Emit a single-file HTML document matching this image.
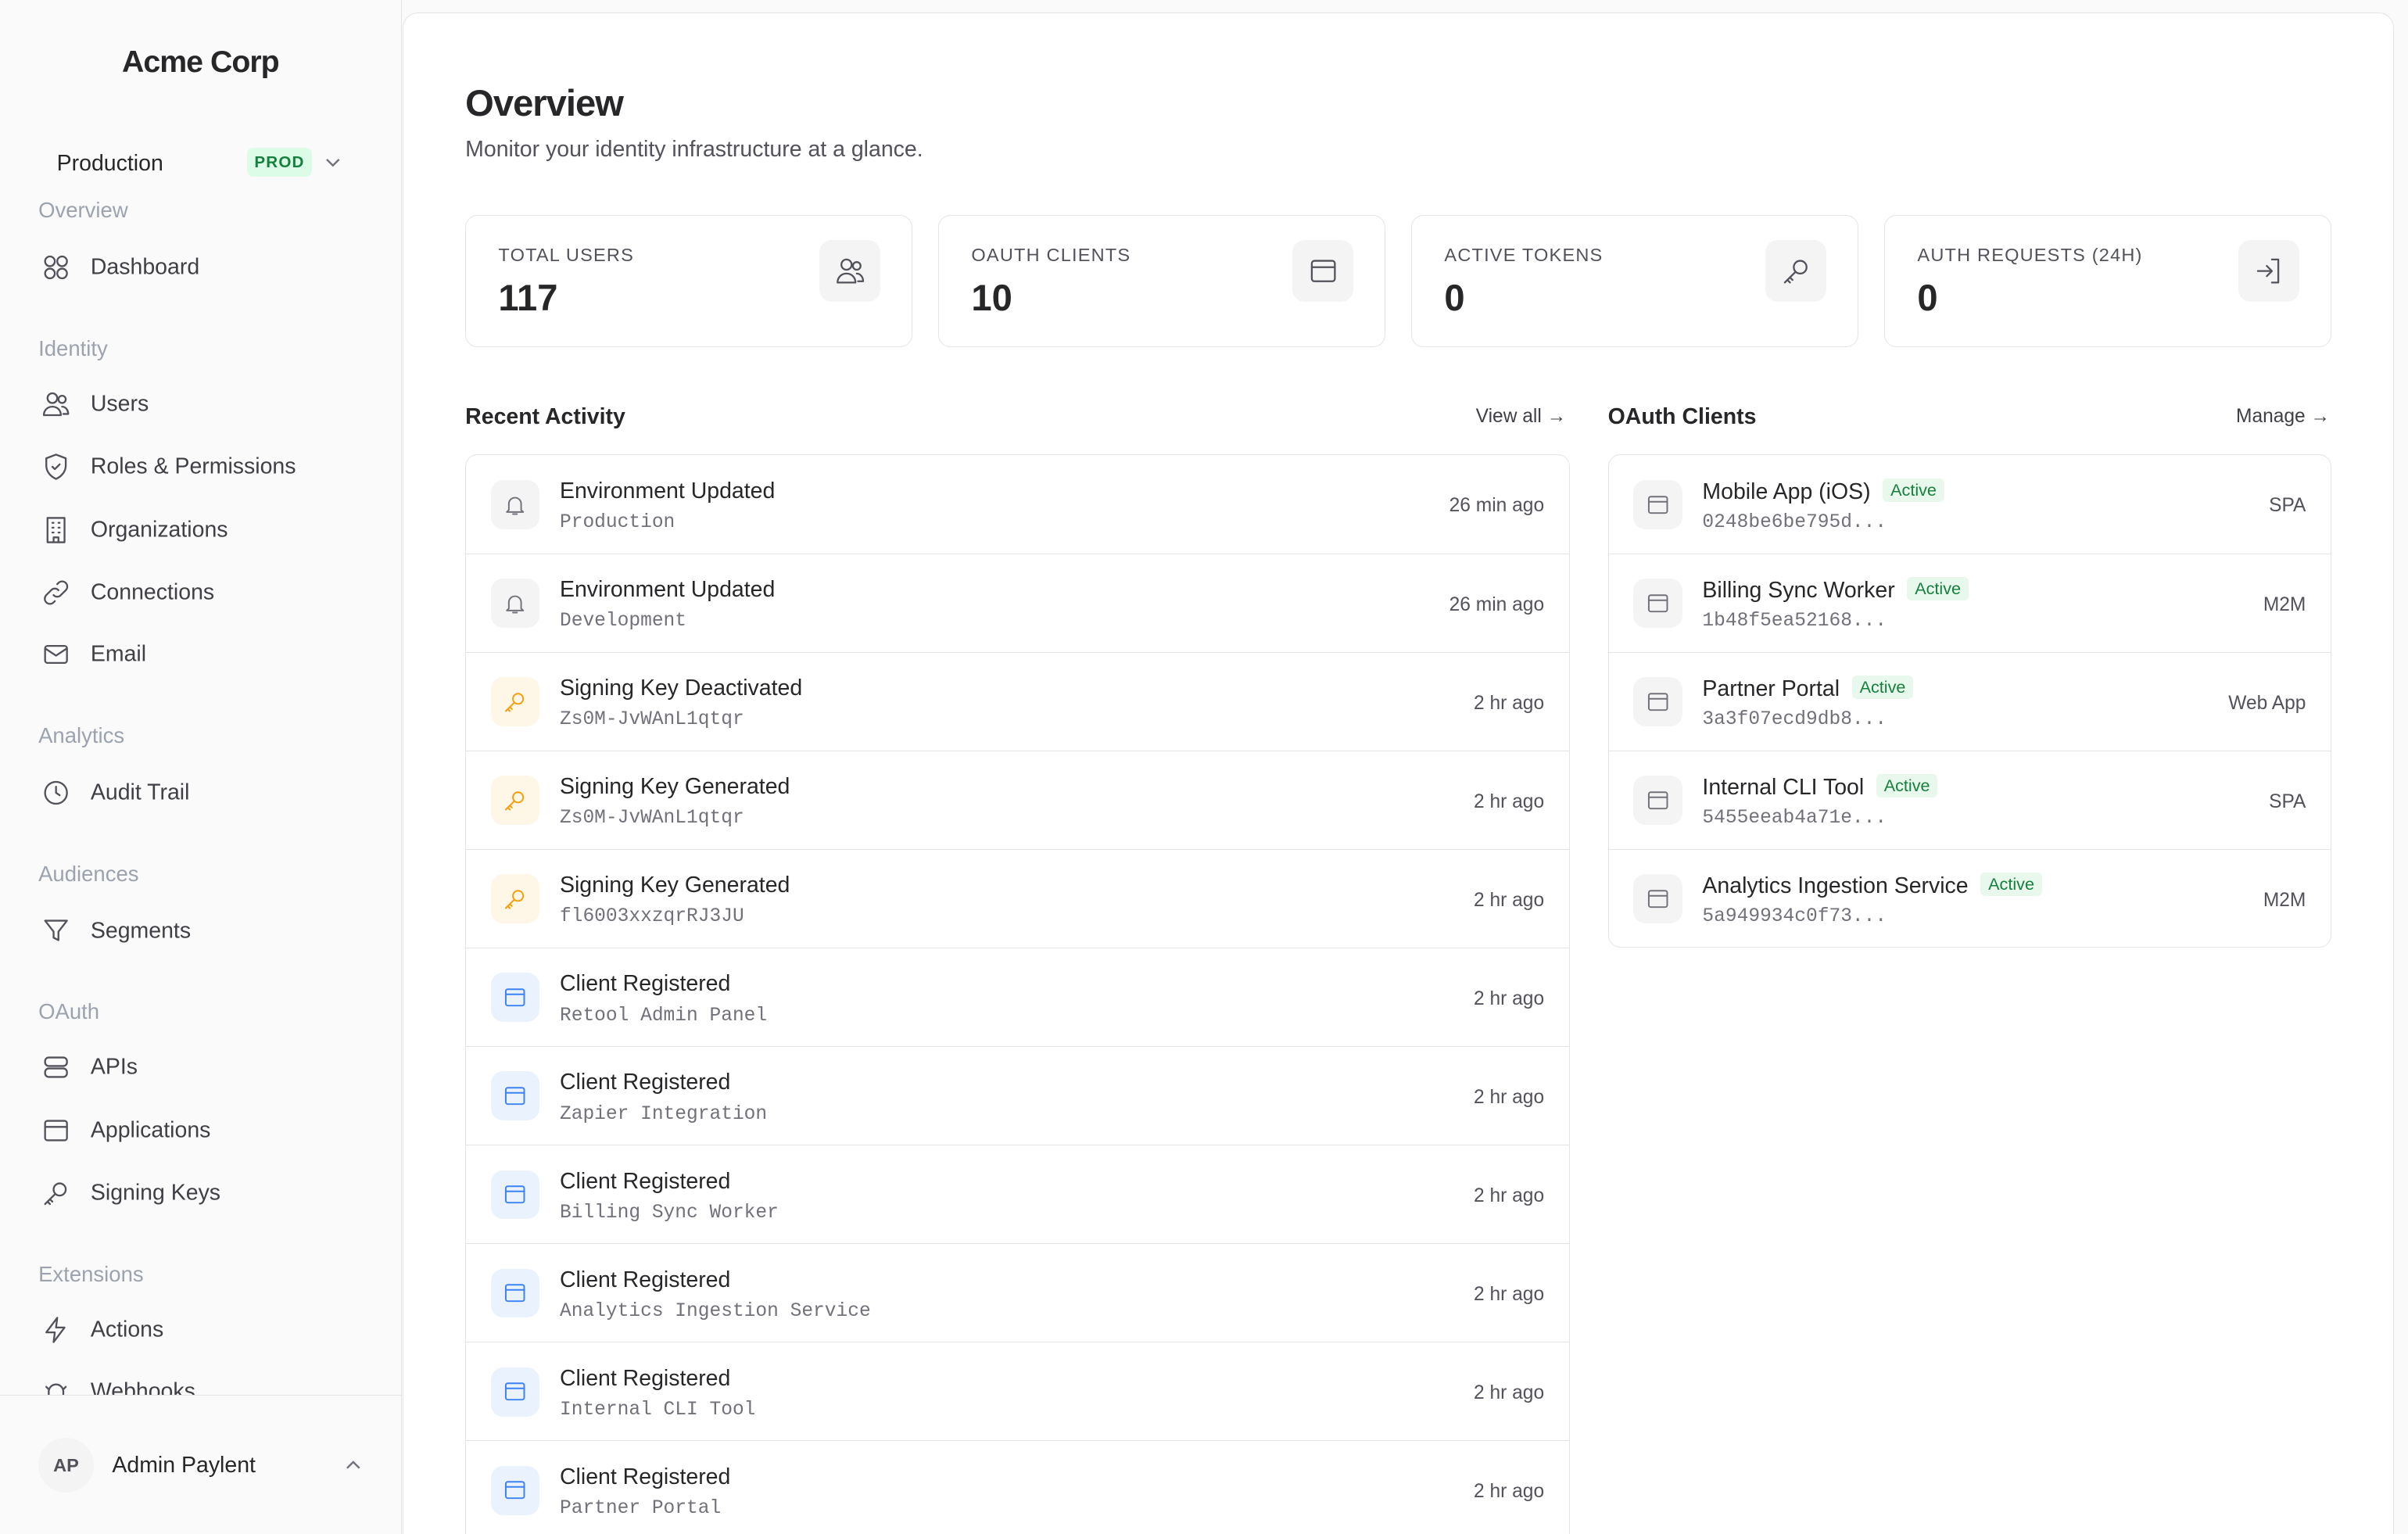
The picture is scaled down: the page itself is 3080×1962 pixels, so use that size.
<!DOCTYPE html>
<html style="height:1962px;width:3080px;overflow:hidden"><head><meta charset="utf-8"><style>
html,body{margin:0;padding:0}
body{width:1568px;height:999px;zoom:1.96429;overflow:hidden;background:#fafafa;font-family:"Liberation Sans",sans-serif;color:#27272a;position:relative}
.a{position:absolute;white-space:nowrap}
.side{position:absolute;left:0;top:0;width:261px;height:999px;background:#fafafa;border-right:1px solid #e4e4e7}
.sec{position:absolute;left:25px;font-size:14px;color:#9ca3af;transform:translateY(-50%)}
.it{position:absolute;left:27px;font-size:14.5px;color:#3f3f46;display:flex;align-items:center;gap:13px;transform:translateY(-50%)}
.it svg{width:19px;height:19px;fill:none;stroke:#52525b;stroke-width:1.5;stroke-linecap:round;stroke-linejoin:round}
.main{position:absolute;left:262px;top:8px;width:1296px;height:1100px;background:#fff;border:1px solid #e4e4e7;border-radius:10px}
.card{position:absolute;top:140px;width:291px;height:86px;border:1px solid #e4e4e7;border-radius:8px;background:#fff;box-sizing:border-box}
.card .l{position:absolute;left:21px;top:19px;font-size:12px;letter-spacing:.6px;color:#52525b}
.card .v{position:absolute;left:21px;top:39px;font-size:24px;font-weight:bold;color:#27272a}
.card .ib{position:absolute;right:20px;top:16px;width:40px;height:40px;border-radius:8px;background:#f4f4f5;display:flex;align-items:center;justify-content:center}
svg.ic{width:20px;height:20px;fill:none;stroke:#52525b;stroke-width:1.4;stroke-linecap:round;stroke-linejoin:round}
.list{position:absolute;top:296px;border:1px solid #e4e4e7;border-radius:8px;background:#fff;overflow:hidden}
.row{height:64.2px;box-sizing:border-box;border-bottom:1px solid #e4e4e7;position:relative}
.row:last-child{border-bottom:none}
.row .ib{position:absolute;left:16px;top:16px;width:32px;height:32px;border-radius:8px;background:#f4f4f5;display:flex;align-items:center;justify-content:center}
.row .ib svg{width:16px;height:16px;fill:none;stroke:#71717a;stroke-width:1.5;stroke-linecap:round;stroke-linejoin:round}
.row .t{position:absolute;left:61px;top:15px;font-size:14.5px;color:#27272a}
.row .s{position:absolute;left:61px;top:37px;font-size:12.5px;color:#71717a;font-family:"Liberation Mono",monospace}
.row .r{position:absolute;right:16px;top:26px;font-size:12.5px;color:#52525b}
.badge{display:inline-block;font-size:11px;color:#15803d;background:#e9f8ec;border-radius:3px;padding:1px 5px;margin-left:8px;vertical-align:2px}
.hdr{position:absolute;top:263px;font-size:14.5px;font-weight:bold;color:#27272a}
.lnk{position:absolute;top:264px;font-size:12.5px;color:#3f3f46}
</style></head><body>
<div class="side">
<div class="a" style="left:0;width:261px;text-align:center;top:29px;font-size:20px;font-weight:bold;letter-spacing:-.5px;color:#27272a">Acme Corp</div>
<div class="a" style="left:37px;top:98px;font-size:14.5px;color:#27272a">Production</div>
<div class="a" style="left:161px;top:96px;width:42px;height:19px;background:#dcfce7;border-radius:4px;font-size:10.5px;font-weight:bold;color:#15803d;text-align:center;line-height:19px;letter-spacing:.6px">PROD</div>
<svg class="a" style="left:212px;top:101px" width="10" height="10" viewBox="0 0 10 10"><path d="M1 3l4 4 4-4" fill="none" stroke="#71717a" stroke-width="1.2"/></svg>
<div class="sec" style="top:137px">Overview</div>
<div class="it" style="top:174px"><svg viewBox="0 0 24 24"><circle cx="7" cy="7" r="4"/><circle cx="17" cy="7" r="4"/><circle cx="7" cy="17" r="4"/><circle cx="17" cy="17" r="4"/></svg>Dashboard</div>
<div class="sec" style="top:227px">Identity</div>
<div class="it" style="top:263px"><svg viewBox="0 0 24 24"><circle cx="9" cy="7" r="4"/><path d="M2 21c0-4 3-7 7-7s7 3 7 7z"/><circle cx="17" cy="8" r="3"/><path d="M17 14c3 0 5 3 5 6h-4"/></svg>Users</div>
<div class="it" style="top:304px"><svg viewBox="0 0 24 24"><path d="M12 2l8 3v6c0 5-3.5 9-8 11-4.5-2-8-6-8-11V5z"/><path d="M9 12l2 2 4-4"/></svg>Roles &amp; Permissions</div>
<div class="it" style="top:345px"><svg viewBox="0 0 24 24"><rect x="5" y="2" width="14" height="20"/><path d="M9 6h1M14 6h1M9 10h1M14 10h1M9 14h1M14 14h1M10 22v-4h4v4"/></svg>Organizations</div>
<div class="it" style="top:386px"><svg viewBox="0 0 24 24"><path d="M10 14a4 4 0 0 0 6 0l4-4a4 4 0 0 0-6-6l-1 1"/><path d="M14 10a4 4 0 0 0-6 0l-4 4a4 4 0 0 0 6 6l1-1"/></svg>Connections</div>
<div class="it" style="top:426px"><svg viewBox="0 0 24 24"><rect x="3" y="5" width="18" height="14" rx="2"/><path d="M3 7l9 6 9-6"/></svg>Email</div>
<div class="sec" style="top:479px">Analytics</div>
<div class="it" style="top:516px"><svg viewBox="0 0 24 24"><circle cx="12" cy="12" r="9"/><path d="M12 7v5l3 2"/></svg>Audit Trail</div>
<div class="sec" style="top:569px">Audiences</div>
<div class="it" style="top:606px"><svg viewBox="0 0 24 24"><path d="M3 4h18l-7 9v7l-4-2v-5z"/></svg>Segments</div>
<div class="sec" style="top:659px">OAuth</div>
<div class="it" style="top:695px"><svg viewBox="0 0 24 24"><rect x="3" y="4" width="18" height="7" rx="3"/><rect x="3" y="13" width="18" height="7" rx="3"/></svg>APIs</div>
<div class="it" style="top:736px"><svg viewBox="0 0 24 24"><rect x="3" y="4" width="18" height="16" rx="2"/><path d="M3 9h18"/></svg>Applications</div>
<div class="it" style="top:777px"><svg viewBox="0 0 24 24"><circle cx="15" cy="9" r="5"/><path d="M11 13l-8 8M5 19l2 2M7 17l2 2"/></svg>Signing Keys</div>
<div class="sec" style="top:830px">Extensions</div>
<div class="it" style="top:866px"><svg viewBox="0 0 24 24"><path d="M13 2L4 14h7l-1 8 9-12h-7z"/></svg>Actions</div>
<div style="position:absolute;left:0;top:880px;width:261px;height:28px;overflow:hidden"><div class="it" style="top:26px"><svg viewBox="0 0 24 24"><path d="M6 22V12a6 6 0 0 1 12 0v10M4 8l2 2M20 8l-2 2"/></svg>Webhooks</div></div>
<div style="position:absolute;left:0;top:908px;width:261px;border-top:1px solid #e4e4e7"></div>
<div class="a" style="left:25px;top:936px;width:36px;height:36px;border-radius:50%;background:#f4f4f5;font-size:12px;font-weight:bold;color:#52525b;text-align:center;line-height:36px">AP</div>
<div class="a" style="left:73px;top:946px;font-size:14.5px;color:#27272a">Admin Paylent</div>
<svg class="a" style="left:225px;top:949px" width="10" height="10" viewBox="0 0 10 10"><path d="M1 7l4-4 4 4" fill="none" stroke="#71717a" stroke-width="1.2"/></svg>
</div>

<div class="main"></div>
<div class="a" style="left:303px;top:53px;font-size:24px;font-weight:bold;letter-spacing:-.5px;color:#27272a">Overview</div>
<div class="a" style="left:303px;top:89px;font-size:14.5px;color:#52525b">Monitor your identity infrastructure at a glance.</div>

<div class="card" style="left:303px"><div class="l">TOTAL USERS</div><div class="v">117</div><div class="ib"><svg class="ic" viewBox="0 0 24 24"><circle cx="9" cy="7" r="4"/><path d="M2 21c0-4 3-7 7-7s7 3 7 7z"/><circle cx="17" cy="8" r="3"/><path d="M17 14c3 0 5 3 5 6h-4"/></svg></div></div>
<div class="card" style="left:611px"><div class="l">OAUTH CLIENTS</div><div class="v">10</div><div class="ib"><svg class="ic" viewBox="0 0 24 24"><rect x="3" y="4" width="18" height="16" rx="2"/><path d="M3 9h18"/></svg></div></div>
<div class="card" style="left:919px"><div class="l">ACTIVE TOKENS</div><div class="v">0</div><div class="ib"><svg class="ic" viewBox="0 0 24 24"><circle cx="15" cy="9" r="5"/><path d="M11 13l-8 8M5 19l2 2M7 17l2 2"/></svg></div></div>
<div class="card" style="left:1227px"><div class="l">AUTH REQUESTS (24H)</div><div class="v">0</div><div class="ib"><svg class="ic" viewBox="0 0 24 24"><path d="M14 3h5v18h-5M3 12h11M10 8l4 4-4 4"/></svg></div></div>

<div class="hdr" style="left:303px">Recent Activity</div>
<div class="lnk" style="left:961px">View all →</div>
<div class="hdr" style="left:1047px">OAuth Clients</div>
<div class="lnk" style="left:1456px">Manage →</div>

<div class="list" style="left:303px;width:718px;height:760px">
<div class="row"><div class="ib"><svg viewBox="0 0 24 24"><path d="M6 17V11a6 6 0 0 1 12 0v6l2 2H4z"/><path d="M10 21h4"/></svg></div><div class="t">Environment Updated</div><div class="s">Production</div><div class="r">26 min ago</div></div>
<div class="row"><div class="ib"><svg viewBox="0 0 24 24"><path d="M6 17V11a6 6 0 0 1 12 0v6l2 2H4z"/><path d="M10 21h4"/></svg></div><div class="t">Environment Updated</div><div class="s">Development</div><div class="r">26 min ago</div></div>
<div class="row"><div class="ib" style="background:#fef6e7"><svg viewBox="0 0 24 24" style="stroke:#f59e0b"><circle cx="15" cy="9" r="5"/><path d="M11 13l-8 8M5 19l2 2M7 17l2 2"/></svg></div><div class="t">Signing Key Deactivated</div><div class="s">Zs0M-JvWAnL1qtqr</div><div class="r">2 hr ago</div></div>
<div class="row"><div class="ib" style="background:#fef6e7"><svg viewBox="0 0 24 24" style="stroke:#f59e0b"><circle cx="15" cy="9" r="5"/><path d="M11 13l-8 8M5 19l2 2M7 17l2 2"/></svg></div><div class="t">Signing Key Generated</div><div class="s">Zs0M-JvWAnL1qtqr</div><div class="r">2 hr ago</div></div>
<div class="row"><div class="ib" style="background:#fef6e7"><svg viewBox="0 0 24 24" style="stroke:#f59e0b"><circle cx="15" cy="9" r="5"/><path d="M11 13l-8 8M5 19l2 2M7 17l2 2"/></svg></div><div class="t">Signing Key Generated</div><div class="s">fl6003xxzqrRJ3JU</div><div class="r">2 hr ago</div></div>
<div class="row"><div class="ib" style="background:#eaf2fe"><svg viewBox="0 0 24 24" style="stroke:#3b82f6"><rect x="3" y="4" width="18" height="16" rx="2"/><path d="M3 9h18"/></svg></div><div class="t">Client Registered</div><div class="s">Retool Admin Panel</div><div class="r">2 hr ago</div></div>
<div class="row"><div class="ib" style="background:#eaf2fe"><svg viewBox="0 0 24 24" style="stroke:#3b82f6"><rect x="3" y="4" width="18" height="16" rx="2"/><path d="M3 9h18"/></svg></div><div class="t">Client Registered</div><div class="s">Zapier Integration</div><div class="r">2 hr ago</div></div>
<div class="row"><div class="ib" style="background:#eaf2fe"><svg viewBox="0 0 24 24" style="stroke:#3b82f6"><rect x="3" y="4" width="18" height="16" rx="2"/><path d="M3 9h18"/></svg></div><div class="t">Client Registered</div><div class="s">Billing Sync Worker</div><div class="r">2 hr ago</div></div>
<div class="row"><div class="ib" style="background:#eaf2fe"><svg viewBox="0 0 24 24" style="stroke:#3b82f6"><rect x="3" y="4" width="18" height="16" rx="2"/><path d="M3 9h18"/></svg></div><div class="t">Client Registered</div><div class="s">Analytics Ingestion Service</div><div class="r">2 hr ago</div></div>
<div class="row"><div class="ib" style="background:#eaf2fe"><svg viewBox="0 0 24 24" style="stroke:#3b82f6"><rect x="3" y="4" width="18" height="16" rx="2"/><path d="M3 9h18"/></svg></div><div class="t">Client Registered</div><div class="s">Internal CLI Tool</div><div class="r">2 hr ago</div></div>
<div class="row"><div class="ib" style="background:#eaf2fe"><svg viewBox="0 0 24 24" style="stroke:#3b82f6"><rect x="3" y="4" width="18" height="16" rx="2"/><path d="M3 9h18"/></svg></div><div class="t">Client Registered</div><div class="s">Partner Portal</div><div class="r">2 hr ago</div></div>
</div>

<div class="list" style="left:1047px;width:470px;height:320px">
<div class="row"><div class="ib"><svg viewBox="0 0 24 24"><rect x="3" y="4" width="18" height="16" rx="2"/><path d="M3 9h18"/></svg></div><div class="t">Mobile App (iOS)<span class="badge">Active</span></div><div class="s">0248be6be795d...</div><div class="r">SPA</div></div>
<div class="row"><div class="ib"><svg viewBox="0 0 24 24"><rect x="3" y="4" width="18" height="16" rx="2"/><path d="M3 9h18"/></svg></div><div class="t">Billing Sync Worker<span class="badge">Active</span></div><div class="s">1b48f5ea52168...</div><div class="r">M2M</div></div>
<div class="row"><div class="ib"><svg viewBox="0 0 24 24"><rect x="3" y="4" width="18" height="16" rx="2"/><path d="M3 9h18"/></svg></div><div class="t">Partner Portal<span class="badge">Active</span></div><div class="s">3a3f07ecd9db8...</div><div class="r">Web App</div></div>
<div class="row"><div class="ib"><svg viewBox="0 0 24 24"><rect x="3" y="4" width="18" height="16" rx="2"/><path d="M3 9h18"/></svg></div><div class="t">Internal CLI Tool<span class="badge">Active</span></div><div class="s">5455eeab4a71e...</div><div class="r">SPA</div></div>
<div class="row"><div class="ib"><svg viewBox="0 0 24 24"><rect x="3" y="4" width="18" height="16" rx="2"/><path d="M3 9h18"/></svg></div><div class="t">Analytics Ingestion Service<span class="badge">Active</span></div><div class="s">5a949934c0f73...</div><div class="r">M2M</div></div>
</div>
</body></html>
